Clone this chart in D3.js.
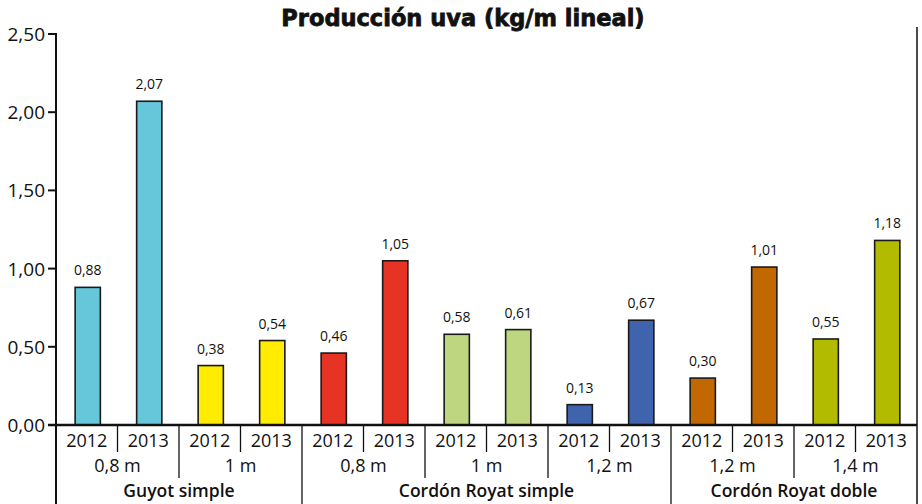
<!DOCTYPE html>
<html>
<head>
  <meta charset="utf-8">
  <script src="https://cdn.jsdelivr.net/npm/d3@7"></script>
  <style type="text/css">
    body { margin: 0; background: #fff; }
    svg text { font-family: "Open Sans", sans-serif; fill: #111; }
    .title { font-family: "DejaVu Sans", sans-serif; font-weight: bold; }
  </style>
</head>
<body>
<svg id="chart" width="922" height="504"></svg>

<script type="text/javascript">
// data
const sistemas = ["Guyot simple", "Cordón Royat simple", "Cordón Royat doble"];
const marcos = ["0,8 m", "1 m", "0,8 m", "1 m", "1,2 m", "1,2 m", "1,4 m"];
const marcoSistema = [0, 0, 1, 1, 1, 2, 2];
const anios = ["2012", "2013"];
const prod2012 = [0.88, 0.38, 0.46, 0.58, 0.13, 0.30, 0.55];
const prod2013 = [2.07, 0.54, 1.05, 0.61, 0.67, 1.01, 1.18];
const colores = ["#66c6da", "#ffec00", "#e63323", "#bfd680", "#3f63ad", "#c26800", "#b3bb00"];
const yTicks = [0, 0.5, 1, 1.5, 2, 2.5];

// one row per bar
const bars = [];
marcos.forEach((m, i) => {
  bars.push({ i: i * 2, marco: i, anio: anios[0], v: prod2012[i], color: colores[i] });
  bars.push({ i: i * 2 + 1, marco: i, anio: anios[1], v: prod2013[i], color: colores[i] });
});

const svg = d3.select('#chart');
const plotLeft = 56, plotRight = 917, plotTop = 34, base = 425;

const y = d3.scaleLinear().domain([0, 2.5]).range([base, plotTop]);
const x = d3.scaleBand().domain(d3.range(bars.length)).range([plotLeft + 1, plotRight + 1])
  .paddingInner(0.59).paddingOuter(0.295);
const step = x.step();
const edge = k => plotLeft + k * step;

// title
svg.append('text').attr('class', 'title')
  .attr('x', 463).attr('y', 26).attr('text-anchor', 'middle')
  .style('font-size', '22.5px').style('stroke', '#111').style('stroke-width', 0.8)
  .text('Producción uva (kg/m lineal)');

// y axis
const yAxis = svg.append('g');
yAxis.selectAll('line.tick').data(yTicks).enter().append('line')
  .attr('x1', plotLeft - 8).attr('x2', plotLeft)
  .attr('y1', d => y(d)).attr('y2', d => y(d))
  .attr('stroke', '#111').attr('stroke-width', 2);
yAxis.selectAll('text').data(yTicks).enter().append('text')
  .attr('x', plotLeft - 11).attr('y', d => y(d) + 7)
  .attr('text-anchor', 'end').style('font-size', '19px')
  .text(d => d3.format('.2f')(d).replace('.', ','));

// bars
svg.selectAll('rect.bar').data(bars).enter().append('rect')
  .attr('class', 'bar')
  .attr('x', d => x(d.i)).attr('width', x.bandwidth())
  .attr('y', d => y(d.v)).attr('height', d => base - y(d.v))
  .attr('fill', d => d.color).attr('stroke', '#1a1a1a').attr('stroke-width', 1.6);

svg.selectAll('text.val').data(bars).enter().append('text')
  .attr('class', 'val')
  .attr('x', d => x(d.i) + x.bandwidth() / 2).attr('y', d => y(d.v) - 12)
  .attr('text-anchor', 'middle').style('font-size', '14px')
  .text(d => d3.format('.2f')(d.v).replace('.', ','));

// frame lines
svg.append('line').attr('x1', plotLeft).attr('x2', plotLeft).attr('y1', plotTop - 1).attr('y2', 504)
  .attr('stroke', '#111').attr('stroke-width', 2);
svg.append('line').attr('x1', plotRight).attr('x2', plotRight).attr('y1', 27).attr('y2', 504)
  .attr('stroke', '#111').attr('stroke-width', 1.5);
svg.append('line').attr('x1', plotLeft - 8).attr('x2', plotRight).attr('y1', base).attr('y2', base)
  .attr('stroke', '#111').attr('stroke-width', 2.5);

// category labels, three rows
svg.selectAll('text.anio').data(bars).enter().append('text')
  .attr('x', d => edge(d.i) + step / 2).attr('y', 447)
  .attr('text-anchor', 'middle').style('font-size', '18px')
  .text(d => d.anio);
svg.selectAll('text.marco').data(marcos).enter().append('text')
  .attr('x', (d, i) => edge(i * 2) + step).attr('y', 472)
  .attr('text-anchor', 'middle').style('font-size', '18px')
  .text(d => d);
svg.selectAll('text.sist').data(sistemas).enter().append('text')
  .attr('x', (d, s) => {
    const idx = marcoSistema.map((m, i) => m === s ? i : -1).filter(i => i >= 0);
    return (edge(idx[0] * 2) + edge((idx[idx.length - 1] + 1) * 2)) / 2;
  })
  .attr('y', 497).attr('text-anchor', 'middle')
  .style('font-size', '17.5px').style('font-weight', 600)
  .text(d => d);

// separators
const seps = [];
for (let k = 1; k < bars.length; k++) {
  let bottom = 452;
  if (k % 2 === 0) {
    const m = k / 2;
    bottom = marcoSistema[m] !== marcoSistema[m - 1] ? 504 : 478;
  }
  seps.push({ x: edge(k), bottom: bottom });
}
svg.selectAll('line.sep').data(seps).enter().append('line')
  .attr('x1', d => d.x).attr('x2', d => d.x)
  .attr('y1', base).attr('y2', d => d.bottom)
  .attr('stroke', '#111').attr('stroke-width', 1.3);
</script>
</body>
</html>
